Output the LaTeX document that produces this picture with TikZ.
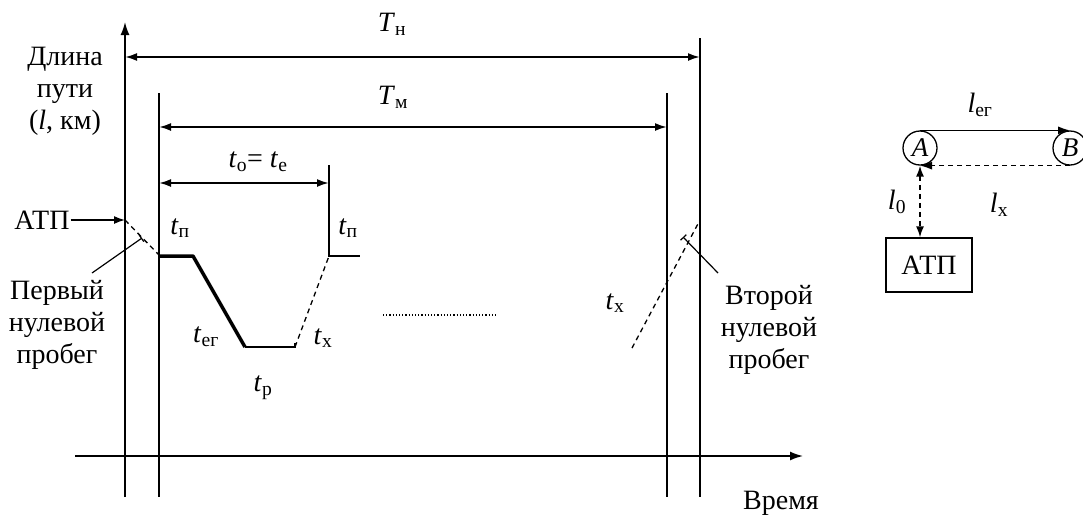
\documentclass[tikz,border=0pt]{standalone}
\usepackage{fontspec}
\setmainfont{Liberation Serif}
\newfontfamily\timesfont{Liberation Serif}
\usetikzlibrary{arrows.meta,positioning,calc}

\newcommand{\tsub}[2]{\textit{#1}\textsubscript{#2}}

\begin{document}
\begin{tikzpicture}[x=1pt,y=-1pt,
    lbl/.style={font=\timesfont\fontsize{28}{32}\selectfont,inner sep=1pt},
    txt/.style={lbl,align=center},
    axis/.style={-{Latex[length=13pt,width=9pt]},line width=1.6pt},
    guide/.style={line width=1.3pt},
    dim/.style={{Latex[length=12pt,width=8pt]}-{Latex[length=12pt,width=8pt]},line width=2pt},
    run/.style={line width=3.5pt},
    idle/.style={line width=1.3pt,dash pattern=on 5pt off 4pt},
    lead/.style={-{Bar[width=8pt]},line width=1.2pt},
    pt/.style={circle,draw,line width=1.3pt,minimum size=34pt,inner sep=0pt,
      font=\timesfont\fontsize{27}{31}\selectfont\itshape}
  ]
  \useasboundingbox (0,0) rectangle (1083,517);

  % axes
  \coordinate (org) at (75,456);
  \coordinate (xend) at (803,456);
  \coordinate (ybot) at (125,497);
  \coordinate (ytop) at (125,22);
  \draw[axis] (org) -- (xend);
  \draw[axis] (ybot) -- (ytop);
  \node[txt] (ylab) at (65,91) {Длина\\пути\\(\textit{l}, км)};
  \node[lbl] (xlab) at (781,503) {Время};

  % boundary lines
  \coordinate (mA) at (159,93);  \coordinate (mAb) at (159,497);
  \coordinate (mB) at (667,93);  \coordinate (mBb) at (667,497);
  \coordinate (nB) at (700,38);  \coordinate (nBb) at (700,497);
  \coordinate (eA) at (329,165); \coordinate (eAb) at (329,256);
  \draw[guide] (mA) -- (mAb);
  \draw[guide] (mB) -- (mBb);
  \draw[guide] (nB) -- (nBb);
  \draw[guide] (eA) -- (eAb) -- ++(31,0);

  % time spans
  \draw[dim] (125,57) -- (nB |- 0,57);
  \node[lbl] (Tn) at (392,24) {\tsub{T}{н}};
  \draw[dim] (mA |- 0,127) -- (mB |- 0,127);
  \node[lbl] (Tm) at (393,97) {\tsub{T}{м}};
  \draw[dim] (mA |- 0,183) -- (eA |- 0,183);
  \node[lbl] (toe) at (258,162) {\tsub{t}{о}= \tsub{t}{е}};

  % first zero run
  \node[lbl] (atp) at (42,220) {АТП};
  \coordinate (atpin) at (125,220);
  \draw[-{Latex[length=11pt,width=8pt]},line width=1.4pt] (atp.east) -- (atpin);
  \coordinate (p1) at (160,256);
  \draw[idle] (atpin) -- (p1);
  \node[txt] (zero1) at (57,325) {Первый\\нулевой\\пробег};
  \draw[lead] (92,273) -- (142,238);

  % trip profile
  \coordinate (p2) at (193,256);
  \coordinate (p3) at (245,347);
  \coordinate (p4) at (295,347);
  \draw[run,line join=round] (p1) -- (p2) -- (p3);
  \draw[line width=2.4pt] (p3) -- (p4) -- ++(0,-4);
  \draw[idle] (p4) -- (eAb);
  \node[lbl] (tp1) at (180,228) {\tsub{t}{п}};
  \node[lbl] (tp2) at (348,228) {\tsub{t}{п}};
  \node[lbl] (teg) at (206,337) {\tsub{t}{ег}};
  \node[lbl] (tr) at (263,388) {\tsub{t}{р}};
  \node[lbl] (tx1) at (323,338) {\tsub{t}{х}};
  \draw[line width=1.2pt,dotted] (383,315) -- (498,315);

  % second zero run
  \coordinate (q1) at (632,348);
  \coordinate (q2) at (700,220);
  \draw[idle] (q1) -- (q2);
  \node[lbl] (tx2) at (615,303) {\tsub{t}{х}};
  \node[txt] (zero2) at (769,330) {Второй\\нулевой\\пробег};
  \draw[lead] (718,273) -- (683,237);

  % route scheme
  \node[pt] (A) at (920,148) {A};
  \node[pt] (B) at (1070,148) {B};
  \node[lbl,draw,line width=1.3pt,minimum width=86pt,minimum height=54pt] (depot) at (929,265) {АТП};
  \draw[-{Latex[length=12pt,width=8pt]},line width=1.6pt] (A.north) -- (B.north);
  \draw[idle,line width=1.6pt,-{Latex[length=12pt,width=8pt]}] (B.south) -- (A.south);
  \draw[idle,line width=1.6pt,{Latex[length=11pt,width=8pt]}-{Latex[length=11pt,width=8pt]}]
    (A.south) -- (A.south |- depot.north);
  \node[lbl] (leg) at (980,105) {\tsub{l}{ег}};
  \node[lbl] (lx) at (999,205) {\tsub{l}{х}};
  \node[lbl] (l0) at (897,202) {\tsub{l}{0}};
\end{tikzpicture}
\end{document}
